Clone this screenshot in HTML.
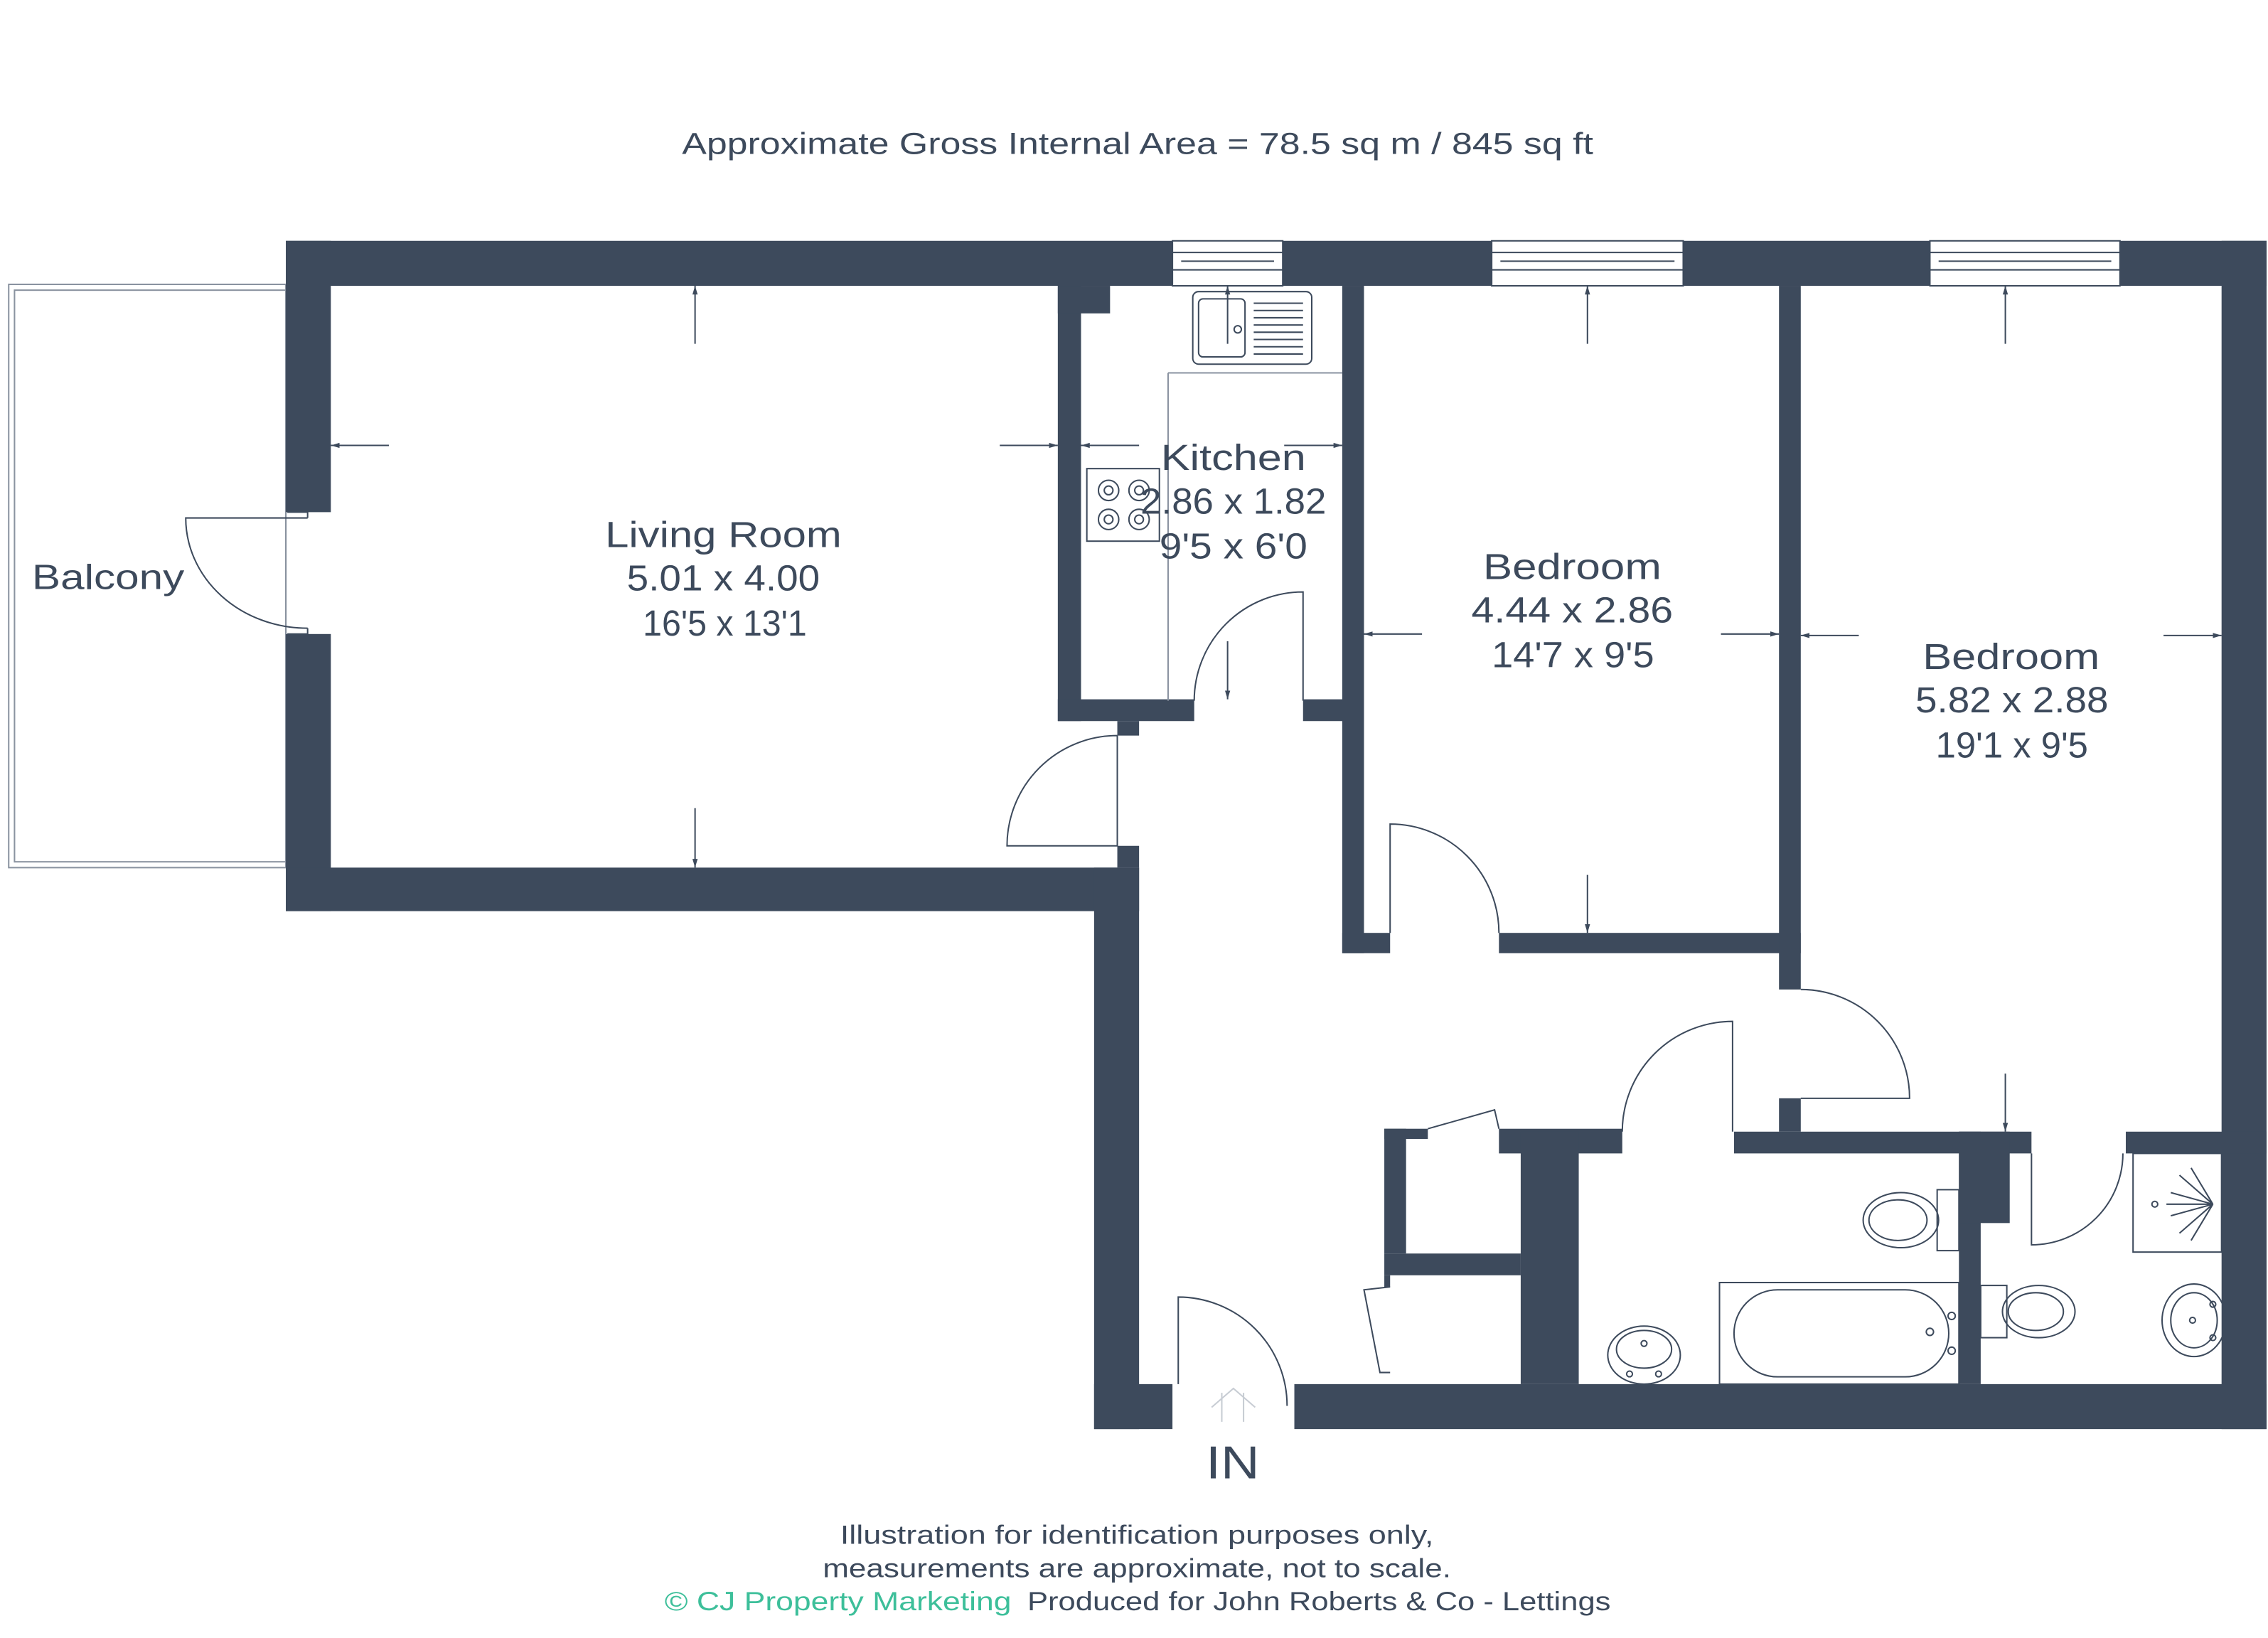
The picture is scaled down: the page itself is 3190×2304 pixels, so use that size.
<!DOCTYPE html>
<html><head><meta charset="utf-8"><style>
html,body{margin:0;padding:0;background:#fff;width:3190px;height:2304px;overflow:hidden}
svg{display:block}
text{font-family:"Liberation Sans",sans-serif;fill:#3d4a5c}
</style></head><body>
<svg width="3190" height="2304" viewBox="0 0 1563 1129" preserveAspectRatio="none">
<defs>
<marker id="ah" viewBox="0 0 10 10" refX="10" refY="5" markerWidth="6" markerHeight="6" orient="auto-start-reverse" markerUnits="userSpaceOnUse">
<path d="M0,2 L10,5 L0,8 z" fill="#3d4a5c"/></marker>
</defs>
<text x="470" y="106" font-size="21" textLength="628" lengthAdjust="spacingAndGlyphs">Approximate Gross Internal Area = 78.5 sq m / 845 sq ft</text>

<!-- balcony -->
<rect x="6" y="196" width="191" height="402" fill="none" stroke="#8a93a0" stroke-width="1"/>
<rect x="10" y="200" width="187" height="394" fill="none" stroke="#8a93a0" stroke-width="1"/>
<text x="22" y="406" font-size="24" textLength="105" lengthAdjust="spacingAndGlyphs">Balcony</text>

<g fill="#3d4a5c">
<rect x="197" y="166" width="1365" height="31"/>
<rect x="197" y="166" width="31" height="187"/>
<rect x="197" y="437" width="31" height="191"/>
<rect x="197" y="598" width="588" height="30"/>
<rect x="754" y="598" width="31" height="387"/>
<rect x="754" y="954" width="54" height="31"/>
<rect x="892" y="954" width="670" height="31"/>
<rect x="1531" y="166" width="31" height="819"/>
<rect x="729" y="197" width="16" height="300"/>
<rect x="729" y="197" width="36" height="19"/>
<rect x="729" y="482" width="94" height="15"/>
<rect x="898" y="482" width="42" height="15"/>
<rect x="770" y="497" width="15" height="10"/>
<rect x="770" y="583" width="15" height="15"/>
<rect x="925" y="197" width="15" height="460"/>
<rect x="925" y="643" width="33" height="14"/>
<rect x="1033" y="643" width="208" height="14"/>
<rect x="1226" y="197" width="15" height="485"/>
<rect x="1226" y="757" width="15" height="23"/>
<rect x="1195" y="780" width="205" height="15"/>
<rect x="1465" y="780" width="97" height="15"/>
<rect x="954" y="778" width="30" height="7"/>
<rect x="1033" y="778" width="85" height="17"/>
<rect x="954" y="778" width="15" height="86"/>
<rect x="954" y="864" width="94" height="15"/>
<rect x="954" y="879" width="4" height="8"/>
<rect x="1048" y="780" width="40" height="174"/>
<rect x="1350" y="780" width="15" height="174"/>
<rect x="1350" y="780" width="35" height="63"/>
</g>

<!-- windows -->
<g fill="#fff" stroke="#3d4a5c" stroke-width="1">
<rect x="808" y="166" width="76" height="31"/><line x1="808" y1="174" x2="884" y2="174"/><line x1="814" y1="180" x2="878" y2="180"/><line x1="808" y1="186" x2="884" y2="186"/>
<rect x="1028" y="166" width="132" height="31"/><line x1="1028" y1="174" x2="1160" y2="174"/><line x1="1034" y1="180" x2="1154" y2="180"/><line x1="1028" y1="186" x2="1160" y2="186"/>
<rect x="1330" y="166" width="131" height="31"/><line x1="1330" y1="174" x2="1461" y2="174"/><line x1="1336" y1="180" x2="1455" y2="180"/><line x1="1330" y1="186" x2="1461" y2="186"/>
</g>

<!-- doors -->
<g fill="none" stroke="#3d4a5c" stroke-width="1">
<path d="M212,357 H128 A84,76 0 0 0 212,433"/>
<path d="M198,353 h14 v4 M198,437 h14 v-4"/>
<path d="M770,507 V583 H694 A76,76 0 0 1 770,507"/>
<path d="M823,483 A75,75 0 0 1 898,408 V483"/>
<path d="M958,643 V568 A75,75 0 0 1 1033,643"/>
<path d="M1241,682 A75,75 0 0 1 1316,757 H1241"/>
<path d="M1118,780 A76,76 0 0 1 1194,704 V780"/>
<path d="M1400,795 V858 A63,63 0 0 0 1463,795"/>
<path d="M812,954 V894 A75,75 0 0 1 887,969"/>
<path d="M984,778 L1030,765 L1033,778"/>
<path d="M958,887 L940,889 L951,946 L958,946"/>
<path d="M842,960 v20 M857,960 v20 M835,970 L850,957 L865,970" stroke="#c7ccd3"/>
</g>

<!-- kitchen fixtures -->
<g fill="none" stroke="#3d4a5c" stroke-width="1">
<rect x="822" y="201" width="82" height="50" rx="4"/>
<rect x="826" y="206" width="32" height="40" rx="3"/>
<circle cx="853" cy="227" r="2.5"/>
<path d="M864,209h34M864,214h34M864,219h34M864,224h34M864,229h34M864,234h34M864,239h34M864,244h34"/>
<path d="M805,257 H925 M805,257 V483" stroke="#8a93a0"/>
<rect x="749" y="323" width="50" height="50"/>
<circle cx="764" cy="338" r="7"/><circle cx="764" cy="338" r="3"/>
<circle cx="785" cy="338" r="7"/><circle cx="785" cy="338" r="3"/>
<circle cx="764" cy="358" r="7"/><circle cx="764" cy="358" r="3"/>
<circle cx="785" cy="358" r="7"/><circle cx="785" cy="358" r="3"/>
</g>

<!-- bathroom fixtures -->
<g fill="none" stroke="#3d4a5c" stroke-width="1">
<rect x="1335" y="820" width="15" height="42"/>
<ellipse cx="1310" cy="841" rx="26" ry="19"/><ellipse cx="1308" cy="841" rx="20" ry="14"/>
<rect x="1185" y="884" width="165" height="70"/>
<rect x="1195" y="889" width="148" height="60" rx="30"/>
<circle cx="1345" cy="907" r="2.5"/><circle cx="1345" cy="931" r="2.5"/><circle cx="1330" cy="918" r="2.5"/>
<ellipse cx="1133" cy="934" rx="25" ry="20"/><ellipse cx="1133" cy="930" rx="19" ry="13"/>
<circle cx="1133" cy="926" r="2"/><circle cx="1123" cy="947" r="2"/><circle cx="1143" cy="947" r="2"/>
<rect x="1365" y="886" width="18" height="36"/>
<ellipse cx="1405" cy="904" rx="25" ry="18"/><ellipse cx="1403" cy="904" rx="19" ry="13"/>
<ellipse cx="1512" cy="910" rx="22" ry="25"/><ellipse cx="1512" cy="910" rx="16" ry="19"/>
<circle cx="1511" cy="910" r="2"/><circle cx="1525" cy="899" r="2"/><circle cx="1525" cy="922" r="2"/>
<rect x="1470" y="795" width="61" height="68"/>
<circle cx="1485" cy="830" r="2"/>
<path d="M1493,830 H1525 M1525,830 L1502,810 M1525,830 L1502,850 M1525,830 L1496,822 M1525,830 L1496,838 M1525,830 L1510,805 M1525,830 L1510,855"/>
</g>

<!-- dimension arrows -->
<g stroke="#3d4a5c" stroke-width="1" fill="none" marker-end="url(#ah)">
<line x1="479" y1="237" x2="479" y2="197"/>
<line x1="479" y1="557" x2="479" y2="598"/>
<line x1="268" y1="307" x2="228" y2="307"/>
<line x1="689" y1="307" x2="729" y2="307"/>
<line x1="785" y1="307" x2="745" y2="307"/>
<line x1="885" y1="307" x2="925" y2="307"/>
<line x1="846" y1="237" x2="846" y2="197"/>
<line x1="846" y1="442" x2="846" y2="482"/>
<line x1="1094" y1="237" x2="1094" y2="197"/>
<line x1="1094" y1="603" x2="1094" y2="643"/>
<line x1="980" y1="437" x2="940" y2="437"/>
<line x1="1186" y1="437" x2="1226" y2="437"/>
<line x1="1382" y1="237" x2="1382" y2="197"/>
<line x1="1382" y1="740" x2="1382" y2="780"/>
<line x1="1281" y1="438" x2="1241" y2="438"/>
<line x1="1491" y1="438" x2="1531" y2="438"/>
</g>

<g font-size="25" lengthAdjust="spacingAndGlyphs">
<text x="417" y="377" textLength="163" lengthAdjust="spacingAndGlyphs">Living Room</text>
<text x="432" y="407" textLength="133" lengthAdjust="spacingAndGlyphs">5.01 x 4.00</text>
<text x="443" y="438" textLength="113" lengthAdjust="spacingAndGlyphs">16'5 x 13'1</text>
<text x="800" y="324" textLength="100" lengthAdjust="spacingAndGlyphs">Kitchen</text>
<text x="786" y="354" textLength="128" lengthAdjust="spacingAndGlyphs">2.86 x 1.82</text>
<text x="799" y="385" textLength="102" lengthAdjust="spacingAndGlyphs">9'5 x 6'0</text>
<text x="1022" y="399" textLength="123" lengthAdjust="spacingAndGlyphs">Bedroom</text>
<text x="1014" y="429" textLength="139" lengthAdjust="spacingAndGlyphs">4.44 x 2.86</text>
<text x="1028" y="460" textLength="112" lengthAdjust="spacingAndGlyphs">14'7 x 9'5</text>
<text x="1325" y="461" textLength="122" lengthAdjust="spacingAndGlyphs">Bedroom</text>
<text x="1320" y="491" textLength="133" lengthAdjust="spacingAndGlyphs">5.82 x 2.88</text>
<text x="1334" y="522" textLength="105" lengthAdjust="spacingAndGlyphs">19'1 x 9'5</text>
</g>
<text x="831" y="1019" font-size="32" textLength="37" lengthAdjust="spacingAndGlyphs">IN</text>
<g font-size="18">
<text x="579" y="1064" textLength="409" lengthAdjust="spacingAndGlyphs">Illustration for identification purposes only,</text>
<text x="567" y="1087" textLength="433" lengthAdjust="spacingAndGlyphs">measurements are approximate, not to scale.</text>
<text x="458" y="1110" textLength="239" lengthAdjust="spacingAndGlyphs" style="fill:#3dbf9a">© CJ Property Marketing</text>
<text x="708" y="1110" textLength="402" lengthAdjust="spacingAndGlyphs">Produced for John Roberts &amp; Co - Lettings</text>
</g>
</svg>
</body></html>
